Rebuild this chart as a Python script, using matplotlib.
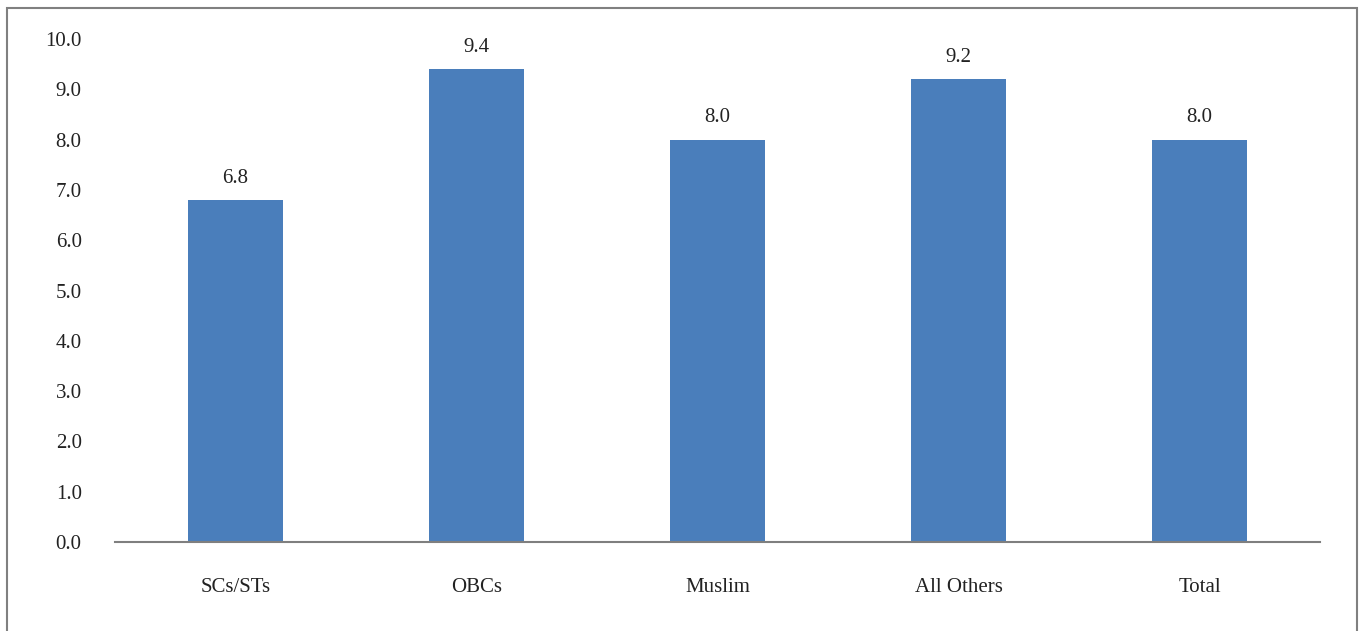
import matplotlib.pyplot as plt
from matplotlib.patches import Rectangle

categories = ["SCs/STs", "OBCs", "Muslim", "All Others", "Total"]
values = [6.8, 9.4, 8.0, 9.2, 8.0]
yticks = [0.0, 1.0, 2.0, 3.0, 4.0, 5.0, 6.0, 7.0, 8.0, 9.0, 10.0]

plt.rcParams["font.family"] = ["Liberation Serif", "DejaVu Serif"]

fig = plt.figure(figsize=(13.63, 6.31), dpi=100)
ax = fig.add_axes([0.0844, 0.141, 0.8841, 0.797])

x = range(len(categories))
bars = ax.bar(x, values, width=0.394, color="#4a7ebb", zorder=2)

for bar, v in zip(bars, values):
    ax.annotate(f"{v:.1f}", (bar.get_x() + bar.get_width() / 2, v),
                xytext=(0, 9), textcoords="offset points",
                ha="center", va="bottom", fontsize=15, color="#222222")

ax.set_xlim(-0.5, len(categories) - 0.5)
ax.set_ylim(0, 10)
ax.set_yticks(yticks)
ax.set_yticklabels([f"{t:.1f}" for t in yticks])
ax.set_xticks(list(x))
ax.set_xticklabels(categories)

ax.tick_params(axis="y", length=0, pad=24, labelsize=15, labelcolor="#222222")
ax.tick_params(axis="x", length=0, pad=26, labelsize=15, labelcolor="#222222")

for side in ["top", "right", "left"]:
    ax.spines[side].set_visible(False)
ax.spines["bottom"].set_color("#7f7f7f")
ax.spines["bottom"].set_linewidth(1.5)

# outer frame around the chart, open at the bottom
fig.patches.append(Rectangle((7 / 1363, -0.05), 1350 / 1363, 1.05 - 8 / 631,
                             transform=fig.transFigure, fill=False,
                             edgecolor="#808080", linewidth=1.5))

fig.savefig("out.png", dpi=100)
